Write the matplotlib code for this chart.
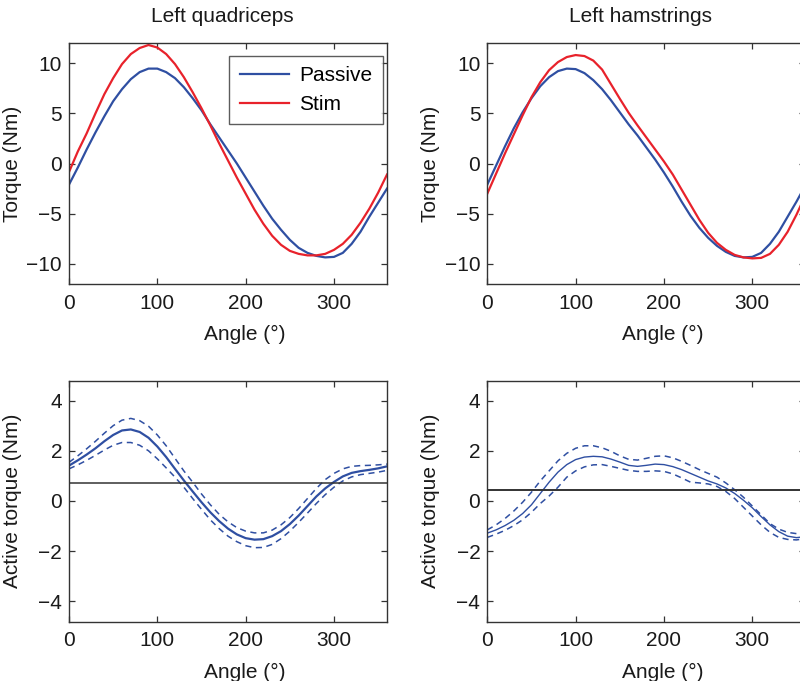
import matplotlib
matplotlib.use('Agg')
import matplotlib.pyplot as plt
import numpy as np

plt.rcParams['font.family'] = ['Liberation Sans', 'DejaVu Sans']
plt.rcParams['font.size'] = 15

# joint angle (deg), sampled every 10 deg
angle = [0, 10, 20, 30, 40, 50, 60, 70, 80, 90, 100, 110, 120, 130, 140, 150, 160, 170, 180,
         190, 200, 210, 220, 230, 240, 250, 260, 270, 280, 290, 300, 310, 320, 330, 340, 350, 360]

# left quadriceps torque (Nm)
quad_passive = [-2.1, -0.4, 1.4, 3.1, 4.7, 6.2, 7.4, 8.4, 9.1, 9.45, 9.45, 9.1, 8.5, 7.6, 6.5, 5.3, 3.9, 2.6, 1.3,
                0.0, -1.4, -2.8, -4.2, -5.5, -6.6, -7.6, -8.4, -8.9, -9.2, -9.35, -9.3, -8.9, -8.0, -6.8, -5.3, -3.9, -2.5]
quad_stim = [-0.85, 1.2, 3.0, 5.0, 6.9, 8.5, 9.9, 10.9, 11.5, 11.8, 11.55, 10.9, 9.9, 8.6, 7.1, 5.5, 3.8, 2.0, 0.3,
             -1.4, -3.0, -4.6, -6.0, -7.2, -8.1, -8.7, -9.0, -9.15, -9.15, -9.0, -8.6, -8.0, -7.1, -5.9, -4.5, -2.9, -1.1]

# left hamstrings torque (Nm)
ham_passive = [-2.1, -0.2, 1.7, 3.5, 5.1, 6.5, 7.7, 8.6, 9.2, 9.45, 9.4, 9.0, 8.3, 7.4, 6.3, 5.1, 3.9, 2.8, 1.6,
               0.4, -0.9, -2.3, -3.8, -5.2, -6.4, -7.4, -8.2, -8.8, -9.2, -9.35, -9.3, -8.9, -8.0, -6.8, -5.3, -3.8, -2.2]
ham_stim = [-3.0, -1.0, 1.0, 2.9, 4.8, 6.6, 8.1, 9.3, 10.1, 10.6, 10.8, 10.7, 10.25, 9.35, 7.9, 6.45, 5.05, 3.8, 2.6,
            1.4, 0.2, -1.1, -2.6, -4.1, -5.6, -6.9, -7.9, -8.6, -9.1, -9.35, -9.45, -9.4, -9.0, -8.1, -6.8, -5.1, -3.2]

# active torque (Nm): mean and upper/lower bounds
quad_act = [1.41, 1.62, 1.85, 2.1, 2.38, 2.63, 2.81, 2.85, 2.75, 2.52, 2.17, 1.75, 1.28, 0.82, 0.38, -0.05, -0.45, -0.8, -1.1,
            -1.33, -1.48, -1.54, -1.52, -1.4, -1.2, -0.92, -0.58, -0.2, 0.18, 0.5, 0.76, 0.98, 1.12, 1.19, 1.24, 1.3, 1.38]
quad_act_hi = [1.54, 1.8, 2.08, 2.38, 2.7, 3.0, 3.22, 3.29, 3.2, 2.98, 2.63, 2.2, 1.7, 1.2, 0.75, 0.28, -0.15, -0.53, -0.83,
               -1.06, -1.2, -1.27, -1.27, -1.16, -0.95, -0.66, -0.3, 0.1, 0.5, 0.85, 1.1, 1.28, 1.38, 1.41, 1.42, 1.44, 1.47]
quad_act_lo = [1.28, 1.44, 1.62, 1.82, 2.03, 2.22, 2.33, 2.33, 2.22, 2.0, 1.68, 1.32, 0.95, 0.55, 0.1, -0.33, -0.75, -1.1, -1.4,
               -1.62, -1.78, -1.86, -1.85, -1.73, -1.5, -1.2, -0.85, -0.48, -0.1, 0.25, 0.55, 0.8, 0.96, 1.05, 1.1, 1.15, 1.22]
quad_thresh = 0.72

ham_act = [-1.28, -1.15, -0.98, -0.77, -0.5, -0.15, 0.3, 0.75, 1.15, 1.45, 1.65, 1.75, 1.78, 1.76, 1.67, 1.55, 1.42, 1.38, 1.42,
           1.47, 1.45, 1.37, 1.25, 1.1, 0.95, 0.8, 0.68, 0.52, 0.3, 0.03, -0.27, -0.62, -0.95, -1.22, -1.4, -1.46, -1.42]
ham_act_hi = [-1.15, -0.95, -0.7, -0.4, -0.05, 0.35, 0.8, 1.2, 1.6, 1.9, 2.1, 2.2, 2.2, 2.12, 1.98, 1.8, 1.66, 1.63, 1.7,
              1.78, 1.8, 1.72, 1.58, 1.42, 1.25, 1.1, 0.95, 0.72, 0.45, 0.15, -0.2, -0.55, -0.9, -1.12, -1.25, -1.3, -1.28]
ham_act_lo = [-1.45, -1.32, -1.17, -0.98, -0.75, -0.45, -0.1, 0.2, 0.55, 0.95, 1.2, 1.36, 1.44, 1.45, 1.38, 1.3, 1.22, 1.18, 1.18,
              1.2, 1.18, 1.08, 0.92, 0.75, 0.72, 0.68, 0.58, 0.38, 0.1, -0.25, -0.6, -0.95, -1.25, -1.45, -1.53, -1.55, -1.5]
ham_thresh = 0.45

blue = '#2f4fa2'
red = '#e8222b'
dark = '#333333'
txt = '#1a1a1a'

fig = plt.figure(figsize=(8, 6.81), dpi=100)

W, H = 800.0, 681.0
def add_ax(left_px, top_px, w_px=318, h_px=241):
    ax = fig.add_axes([left_px / W, 1 - (top_px + h_px) / H, w_px / W, h_px / H])
    for s in ax.spines.values():
        s.set_color(dark)
        s.set_linewidth(1.0)
    ax.tick_params(direction='in', top=True, right=True, length=4, width=0.9,
                   color=dark, labelcolor=txt, labelsize=15, pad=5)
    ax.tick_params(axis='x', pad=7)
    ax.set_xlim(0, 360)
    ax.set_xticks([0, 100, 200, 300])
    ax.set_xlabel('Angle (°)', color=txt)
    ax.xaxis.set_label_coords(0.553, -0.171)
    ax.yaxis.set_label_coords(-0.148, 0.5)
    return ax

ax1 = add_ax(69, 43)
ax2 = add_ax(487.3, 43)
ax3 = add_ax(69, 380.5)
ax4 = add_ax(487.3, 380.5)

# top row: passive vs stim
for ax, p, s, title in [(ax1, quad_passive, quad_stim, 'Left quadriceps'),
                        (ax2, ham_passive, ham_stim, 'Left hamstrings')]:
    ax.plot(angle, p, color=blue, lw=1.6, label='Passive', solid_joinstyle='round')
    ax.plot(angle, s, color=red, lw=1.6, label='Stim', solid_joinstyle='round')
    ax.set_ylim(-12, 12)
    ax.set_yticks([-10, -5, 0, 5, 10])
    ax.set_ylabel('Torque (Nm)', color=txt)
    ax.set_title(title, fontsize=15, pad=15, x=0.483, color=txt)

leg = ax1.legend(loc='upper right', bbox_to_anchor=(0.9865, 0.946), borderaxespad=0,
                 frameon=True, fancybox=False, handlelength=2.35, handletextpad=0.5,
                 labelspacing=0.45, borderpad=0.5, fontsize=15)
leg.get_frame().set_edgecolor(dark)
leg.get_frame().set_linewidth(1.0)

# bottom row: active torque
ax3.plot(angle, quad_act, color=blue, lw=1.6, solid_joinstyle='round')
ax3.plot(angle, quad_act_hi, color=blue, lw=1.1, ls=(0, (4, 3)))
ax3.plot(angle, quad_act_lo, color=blue, lw=1.1, ls=(0, (4, 3)))
ax3.axhline(quad_thresh, color=dark, lw=1.1)

ax4.plot(angle, ham_act, color=blue, lw=1.0, solid_joinstyle='round')
ax4.plot(angle, ham_act_hi, color=blue, lw=1.1, ls=(0, (4, 3)))
ax4.plot(angle, ham_act_lo, color=blue, lw=1.1, ls=(0, (4, 3)))
ax4.axhline(ham_thresh, color=dark, lw=1.4)

for ax in (ax3, ax4):
    ax.set_ylim(-4.8, 4.8)
    ax.set_yticks([-4, -2, 0, 2, 4])
    ax.set_ylabel('Active torque (Nm)', color=txt)

fig.savefig('out.png', dpi=100)
